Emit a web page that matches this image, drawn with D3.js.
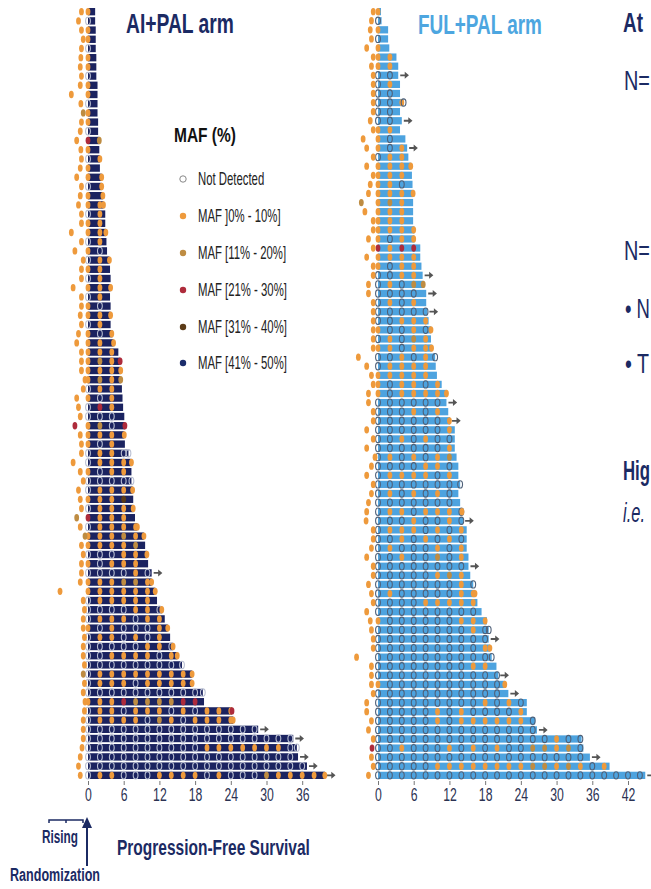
<!DOCTYPE html>
<html><head><meta charset="utf-8">
<script src="https://cdn.jsdelivr.net/npm/d3@7"></script>
<style>
html,body{margin:0;padding:0;background:#fff;}
svg{display:block;font-family:"Liberation Sans Narrow","Arial Narrow","Liberation Sans",Arial,sans-serif;}
</style></head><body>
<svg id="c" width="651" height="889"></svg>
<script>
// ---------- categories ----------
const mafLevels = ["Not Detected","MAF ]0% - 10%]","MAF [11% - 20%]","MAF [21% - 30%]","MAF [31% - 40%]","MAF [41% - 50%]"];
const mafCodes  = ["o","1","2","3","4","5"];
const mafColors = ["#ffffff","#EE9A3C","#BE8C42","#AE2B3B","#5B3B17","#1B2C6B"];
const visitMonths = [0,2,4,6,8,10,12,14,16,18,20,22,24,26,28,30,32,34,36,38,40,42,44];
const aiTicks  = [0,6,12,18,24,30,36];
const fulTicks = [0,6,12,18,24,30,36,42];

// ---------- AI+PAL arm ----------
const aiPFS = [1.2,1.2,1.3,1.3,1.3,1.4,1.4,1.4,1.6,1.6,1.6,1.6,1.7,1.7,1.9,1.9,2.0,2.0,2.3,2.3,2.5,
 2.6,2.9,2.9,3.0,3.1,3.2,3.6,3.7,3.8,3.8,3.7,3.8,3.8,3.8,4.1,4.3,5.1,5.4,5.5,5.5,5.7,5.8,
 5.9,6.1,6.2,6.1,6.2,6.8,7.3,7.3,7.3,7.5,7.6,7.6,7.9,8.3,9.4,9.6,9.9,10.1,10.7,10.7,11.3,
 11.6,12.4,12.9,13.4,13.8,14.3,15.0,15.8,17.5,17.5,19.3,19.5,24.2,24.4,28.6,34.5,35.1,35.3,36.8,39.8];
const aiOngoing = [61,78,79,81,82,83];
const aiRiseT = [-1.1,-1.6,-1.1,-0.8,-1.1,-1.2,-1.3,-1.1,-1.3,-2.8,-1.2,-0.8,-1.1,-1.3,-1.9,-1.2,-1.1,-1.3,-1.9,-1.1,-1.3,
 -1.6,-1.1,-1.1,-2.8,-1.1,-2.2,-0.8,-1.1,-1.1,-2.5,-1.1,-1.1,-1.3,-1.1,-1.6,-1.9,-1.1,-1.1,-1.1,-0.5,-0.8,-1.9,
 -1.6,-1.3,-2.2,-1.3,-1.1,-1.1,-2.5,-1.3,-0.8,-1.6,-1.3,-1.1,-1.9,-1.3,-0.5,-1.1,-0.8,-1.1,-1.1,-1.3,-4.7,
 -0.8,-0.6,-0.8,-0.8,-0.6,-0.8,-0.8,-0.6,-0.8,-0.6,-0.8,-0.5,-0.6,-0.8,-0.8,-0.8,-1.0,-1.3,-1.6,-1.3];
const aiRiseMAF = "1111111111"+"1211111111"+"1111111111"+"1111111111"+"1111131111"+"1111121211"+"1111111111"+"1121111111"+"1111";
const aiVisits = ["1","o","1","1","o","1","1","o","1","1","o","1","1","o","3","1","o","1","1","o","1",
 "11","o1","11","11","o1","1o","o1","11","o1","11","o1","1o","11","o1","1o1","11","111","121","111","121","o11","1o1",
 "o31","ooo","12o","111","1o1","o11o","o111","1o11","oooo","o111","1114","o111","3111","o1111","11121","11112","ooo11","1o111","oooo1o","111221","111111",
 "o11111","oooo11o","o111o11","1o1ooo1","o11o1o1","ooooo11o","oo1111o1","oooooooo","o11111111","o111o1111","oooooooooo","1113222233",
 "o11o111o1o111","o1111o21o1111","ooooooooooooooo","oooooooooooooooooo","oooooooooo1111111o","oooooooooooooooooo","ooooooooooooooooooo","o11ooo1111o1ooo21111"];
const aiEndMAF = "----------"+"----2-1-11"+"11--1--1--"+"1--1--1-31"+"2----31-o1"+"-o1-1-11-1"+"--11-1-1-1"+"1o11o-31--"+"o--1";

// ---------- FUL+PAL arm ----------
const fulPFS = [0.5,0.6,1.7,1.7,1.9,3.1,3.4,3.4,3.7,3.7,4.3,3.7,4.0,3.7,4.6,4.9,5.1,5.5,5.7,5.8,5.9,
 5.9,5.9,5.9,6.1,6.1,7.1,7.1,7.3,7.5,7.6,8.1,8.1,8.3,8.5,8.9,8.9,9.0,9.6,9.7,9.9,10.7,11.5,11.5,
 11.8,12.1,12.9,12.9,12.9,13.2,13.5,13.5,13.8,13.5,13.8,14.1,14.3,14.9,14.9,14.9,15.2,15.2,15.5,16.0,16.3,
 16.7,17.4,18.3,18.6,18.6,18.8,19.1,19.9,20.2,21.3,21.9,25.0,25.0,26.4,26.7,34.2,34.5,35.6,38.9,44.9];
const fulOngoing = [7,12,15,29,31,33,43,45,56,61,69,73,75,79,82,84];
const fulRiseT = [-0.8,-1.1,-1.3,-1.1,-1.9,-0.8,-1.1,-0.8,-0.8,-0.8,-0.8,-0.8,-1.3,-0.8,-2.5,-1.9,-0.8,-1.9,-0.8,-1.3,-1.6,
 -2.8,-2.2,-0.8,-0.8,-1.6,-0.8,-1.9,-0.8,-0.8,-1.6,-1.6,-0.8,-0.8,-0.8,-0.8,-0.8,-0.8,-3.3,-1.9,-1.1,-0.8,-1.6,-1.6,
 -0.8,-0.8,-1.9,-0.8,-1.9,-0.5,-1.1,-1.9,-0.8,-1.1,-1.6,-1.9,-2.0,-0.8,-0.8,-1.1,-1.9,-0.8,-0.8,-1.6,-1.1,
 -0.8,-1.9,-1.3,-1.1,-0.8,-0.8,-3.6,-1.1,-1.1,-1.1,-0.8,-1.9,-1.9,-1.1,-1.6,-0.8,-1.0,-1.1,-0.8,-1.6];
const fulRiseMAF = "1111111111"+"1111111111"+"1211111111"+"1111111111"+"1111111111"+"1111111111"+"1111111111"+"1111111111"+"13111";
const fulVisits = ["1","o","1","o","1","11","11","oo","o1","oo","oo1","oo","oo","11","1o","1o1","o11","111","111","11o","111",
 "121","111","111","1111","1o11","3133","1111","1o11","oo11","o1o2","oooo","o1o1","ooooo","oo111","1oo1o","o1o21","11o11","oo1o1","o1111","11111","1o11o1","1o1111","oooooo",
 "ooo1o1","oooooo1","oooooo1","oo1o1oo","oooooo1","o1o1o12","oooo11o","o1111o1","ooooooo","o1o1o1o","ooooooo","o11o111o","ooo1oo1o","o111o1o1","oo1o1o1o","o1ooo1o1","oo1oo2o1","oooooooo","ooooo121","ooooooo1","o1ooooo11",
 "oooo11111","ooooooooo","1oooooo111","oooooooo1o","oooooooooo","ooooooooo1","oooooooooo","oooooooo11","ooooooooooo","1oooooooooo1","ooooooooooo",
 "ooooooooo1o1o","ooooo1o1oooo1","ooooo1o111111o","oooooooooooooo","ooooooooooooooo1oo","oo1ooo1o1o1oo2212o","oooooooooooooooooo","ooooo1111111122121o1","ooooooooooooooooooooooo"];
const fulEndMAF = "----------"+"o------1--"+"1---------"+"2----1-1o-"+"--1-------"+"--o--1----"+"---o1---o-"+"1o--1-----"+"-----";

// ---------- drawing ----------
const NAVY = "#1B2A63";
const svg = d3.select("#c");
const colorOf = c => mafColors[mafCodes.indexOf(c)];

// condensed text: scaled horizontally to a target width
function ntext(x, y, str, o){
  const g = svg.append("g").attr("transform", `translate(${x},${y})`);
  const t = g.append("text").attr("x", 0).attr("y", 0)
    .attr("font-size", o.size).attr("font-weight", o.weight || "normal")
    .attr("font-style", o.style || "normal").attr("fill", o.fill || NAVY)
    .attr("text-anchor", o.anchor || "start").text(str);
  const len = t.node().getComputedTextLength();
  const sx = o.width ? o.width / len : (o.sx || 1);
  g.attr("transform", `translate(${x},${y}) scale(${sx},1)`);
  return sx;
}

function panel(cfg){
  const n = cfg.pfs.length;
  const x = d3.scaleLinear().domain([0, cfg.ticks[cfg.ticks.length-1]]).range(cfg.xr);
  const y = d3.scaleBand().domain(d3.range(n)).range([8, 779]).paddingInner(0.2);
  const bw = y.bandwidth();
  const g = svg.append("g");
  const rows = d3.range(n);
  g.selectAll("rect.bar").data(rows).join("rect")
    .attr("x", x(0)).attr("y", i => y(i))
    .attr("width", i => x(cfg.pfs[i]) - x(0)).attr("height", bw)
    .attr("fill", cfg.barColor);
  cfg.ongoing.forEach(i => {
    const xe = x(cfg.pfs[i]) + 2, yc = y(i) + bw/2;
    g.append("path")
      .attr("d", `M${xe},${yc-0.9}h4.5v-2.6l4.2,3.5l-4.2,3.5v-2.6h-4.5z`)
      .attr("fill", "#555");
  });
  function dot(t, c, i){
    const e = g.append("ellipse")
      .attr("cx", x(t)).attr("cy", y(i) + bw/2)
      .attr("rx", 2.4).attr("ry", bw*0.5);
    if (c === "o") e.attr("fill", "none").attr("stroke", cfg.ndStroke).attr("stroke-width", 1.1);
    else e.attr("fill", colorOf(c));
  }
  rows.forEach(i => {
    const v = cfg.visits[i];
    for (let k = 0; k < v.length; k++){
      const t = visitMonths[k];
      if (t > cfg.pfs[i] + 0.05 || v[k] === "-") continue;
      dot(t, v[k], i);
    }
    const ec = cfg.endMAF[i];
    if (ec !== "-") dot(cfg.pfs[i], ec, i);
    dot(cfg.riseT[i], cfg.riseMAF[i], i);
  });
  const ax = g.append("g").attr("transform", "translate(0,781)")
    .call(d3.axisBottom(x).tickValues(cfg.ticks).tickSize(4).tickPadding(3).tickFormat(d3.format("d")));
  ax.select(".domain").remove();
  ax.selectAll(".tick line").attr("stroke", "#777");
  ax.selectAll("text").attr("font-family", "\"Liberation Sans\",Arial,sans-serif")
    .attr("font-size", 18).attr("fill", "#2B3252").attr("transform", "scale(0.68,1)");
}

panel({pfs: aiPFS, ongoing: aiOngoing, riseT: aiRiseT, riseMAF: aiRiseMAF, visits: aiVisits, endMAF: aiEndMAF,
       ticks: aiTicks, xr: [88, 302.2], barColor: "#1B2360", ndStroke: "#b9bfd2"});
panel({pfs: fulPFS, ongoing: fulOngoing, riseT: fulRiseT, riseMAF: fulRiseMAF, visits: fulVisits, endMAF: fulEndMAF,
       ticks: fulTicks, xr: [378, 628], barColor: "#4DA3DF", ndStroke: "#4f6078"});

// titles
ntext(126, 33, "AI+PAL arm", {size: 27, weight: "bold", width: 108});
ntext(418, 34, "FUL+PAL arm", {size: 27, weight: "bold", fill: "#4DA6E0", width: 124});

// legend
ntext(174, 142, "MAF (%)", {size: 21, weight: "bold", fill: "#111", width: 62});
const legY = [179, 216, 253, 290, 327, 363];
let legSx = null;
mafLevels.forEach((lab, i) => {
  const c = svg.append("circle").attr("cx", 183).attr("cy", legY[i]).attr("r", 3.2);
  if (i === 0) c.attr("fill", "#fff").attr("stroke", "#888").attr("stroke-width", 1);
  else c.attr("fill", mafColors[i]);
});
// one common condensing factor taken from the widest label
{
  const probe = svg.append("text").attr("font-size", 18).text(mafLevels[5]);
  legSx = 89 / probe.node().getComputedTextLength();
  probe.remove();
}
mafLevels.forEach((lab, i) => ntext(198, legY[i] + 6, lab, {size: 18, fill: "#222", sx: legSx}));

// bottom annotations
svg.append("path").attr("d", "M49,823v-3h34v3M66,820v3").attr("fill", "none")
  .attr("stroke", NAVY).attr("stroke-width", 1.5);
ntext(60, 843, "Rising", {size: 19, weight: "bold", anchor: "middle", width: 36});
svg.append("path").attr("d", "M87,866V826").attr("stroke", NAVY).attr("stroke-width", 2);
svg.append("path").attr("d", "M82,828L87,817L92,828Z").attr("fill", NAVY);
ntext(55, 881, "Randomization", {size: 19, weight: "bold", anchor: "middle", width: 90});
ntext(117, 855, "Progression-Free Survival", {size: 22, weight: "bold", width: 193});

// right-side text (cut off at the slide edge in the source)
ntext(623, 32, "At", {size: 28, weight: "bold", width: 20});
ntext(624, 90, "N=", {size: 28, width: 26});
ntext(624, 260, "N=", {size: 28, width: 26});
ntext(625, 318, "• N", {size: 28, width: 25});
ntext(625, 373, "• T", {size: 28, width: 24});
ntext(623, 480, "Hig", {size: 28, weight: "bold", width: 27});
ntext(623, 522, "i.e.", {size: 28, style: "italic", width: 22});
</script>
</body></html>
